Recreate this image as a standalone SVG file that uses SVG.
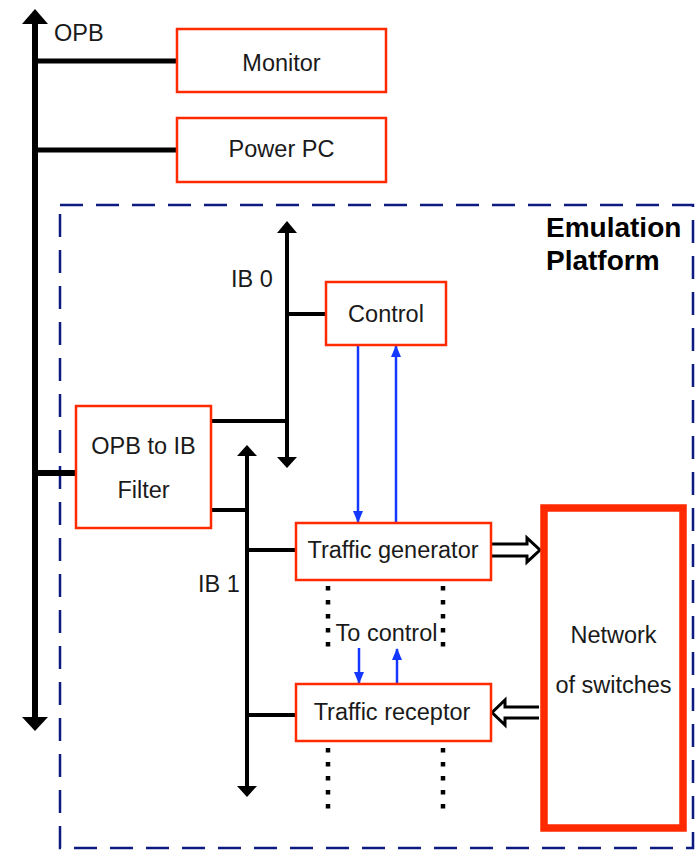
<svg xmlns="http://www.w3.org/2000/svg" width="697" height="851" viewBox="0 0 697 851">
<defs>
<style>
.box{fill:#fff;stroke:#ff2a00;stroke-width:2.5}
.lbl{font-family:"Liberation Sans",Arial,sans-serif;font-size:23.5px;fill:#1a1a1a}
.mid{text-anchor:middle}
.bus{stroke:#000;fill:none}
.blue{stroke:#1438ff;stroke-width:2.5;fill:none}
.dot{stroke:#000;stroke-width:4.5;stroke-dasharray:4.5 9.5;fill:none}
.hollow{fill:#fff;stroke:#000;stroke-width:3;stroke-linejoin:miter}
</style>
<marker id="ba" viewBox="0 0 12 10" refX="11" refY="5" markerWidth="12" markerHeight="10" markerUnits="userSpaceOnUse" orient="auto">
<path d="M0,0 L12,5 L0,10 z" fill="#1438ff"/>
</marker>
</defs>

<rect id="platform" x="60" y="205" width="633" height="643" fill="none" stroke="#0d1a80" stroke-width="2.5" stroke-dasharray="23 13"/>
<text class="lbl" x="546" y="237" style="font-weight:bold;font-size:28px;fill:#000">Emulation</text>
<text class="lbl" x="546" y="270" style="font-weight:bold;font-size:28px;fill:#000">Platform</text>

<g id="connectors">
  <!-- OPB bus -->
  <line class="bus" x1="35" y1="20" x2="35" y2="720" stroke-width="6"/>
  <polygon points="35,9 48,24 22,24" fill="#000"/>
  <polygon points="35,731 48,717 22,717" fill="#000"/>
  <line class="bus" x1="35" y1="61" x2="177" y2="61" stroke-width="5"/>
  <line class="bus" x1="35" y1="150" x2="177" y2="150" stroke-width="5"/>
  <line class="bus" x1="35" y1="473" x2="76" y2="473" stroke-width="6"/>
  <!-- IB 0 bus -->
  <line class="bus" x1="287" y1="230" x2="287" y2="460" stroke-width="4"/>
  <polygon points="287,221 297,233 277,233" fill="#000"/>
  <polygon points="287,468 297,457 277,457" fill="#000"/>
  <line class="bus" x1="287" y1="314" x2="326" y2="314" stroke-width="4"/>
  <line class="bus" x1="212" y1="421" x2="287" y2="421" stroke-width="4"/>
  <!-- IB 1 bus -->
  <line class="bus" x1="247" y1="453" x2="247" y2="789" stroke-width="4"/>
  <polygon points="247,445 257,456 237,456" fill="#000"/>
  <polygon points="247,797 257,786 237,786" fill="#000"/>
  <line class="bus" x1="212" y1="510" x2="247" y2="510" stroke-width="4"/>
  <line class="bus" x1="247" y1="550" x2="296" y2="550" stroke-width="4"/>
  <line class="bus" x1="247" y1="715" x2="296" y2="715" stroke-width="4"/>
  <!-- blue control links -->
  <line class="blue" x1="358" y1="346" x2="358" y2="522" marker-end="url(#ba)"/>
  <line class="blue" x1="396" y1="522" x2="396" y2="346" marker-end="url(#ba)"/>
  <line class="blue" x1="359" y1="648" x2="359" y2="683" marker-end="url(#ba)"/>
  <line class="blue" x1="397" y1="684" x2="397" y2="649" marker-end="url(#ba)"/>
  <!-- dotted continuation -->
  <line class="dot" x1="328" y1="586" x2="328" y2="650"/>
  <line class="dot" x1="443" y1="586" x2="443" y2="650"/>
  <line class="dot" x1="328" y1="748" x2="328" y2="812"/>
  <line class="dot" x1="443" y1="748" x2="443" y2="812"/>
  <!-- hollow data arrows -->
  <path class="hollow" d="M492,544 H527 V538 L540,550 L527,562 V556 H492"/>
  <path class="hollow" d="M539,707 H505 V700 L492,712.5 L505,725 V718 H539"/>
</g>

<text class="lbl" x="54" y="41">OPB</text>
<text class="lbl" x="231" y="287">IB 0</text>
<text class="lbl" x="198" y="592">IB 1</text>
<text class="lbl mid" x="386.5" y="641">To control</text>

<g id="monitor">
  <rect class="box" x="177" y="29" width="209" height="63"/>
  <text class="lbl mid" x="281.5" y="71">Monitor</text>
</g>
<g id="powerpc">
  <rect class="box" x="177" y="118" width="209" height="64"/>
  <text class="lbl mid" x="281.5" y="157">Power PC</text>
</g>
<g id="control">
  <rect class="box" x="326" y="282" width="120" height="63"/>
  <text class="lbl mid" x="386" y="322">Control</text>
</g>
<g id="filter">
  <rect class="box" x="76" y="406" width="135" height="122"/>
  <text class="lbl mid" x="143.5" y="454">OPB to IB</text>
  <text class="lbl mid" x="143.5" y="498">Filter</text>
</g>
<g id="trafficgen">
  <rect class="box" x="296" y="523" width="195" height="57"/>
  <text class="lbl mid" x="393" y="558">Traffic generator</text>
</g>
<g id="trafficrec">
  <rect class="box" x="296" y="684" width="195" height="57"/>
  <text class="lbl mid" x="392" y="720">Traffic receptor</text>
</g>
<g id="network">
  <rect x="544" y="508" width="139" height="320" fill="#fff" stroke="#ff2a00" stroke-width="7.5"/>
  <text class="lbl mid" x="613.5" y="643">Network</text>
  <text class="lbl mid" x="613.5" y="693">of switches</text>
</g>
</svg>
